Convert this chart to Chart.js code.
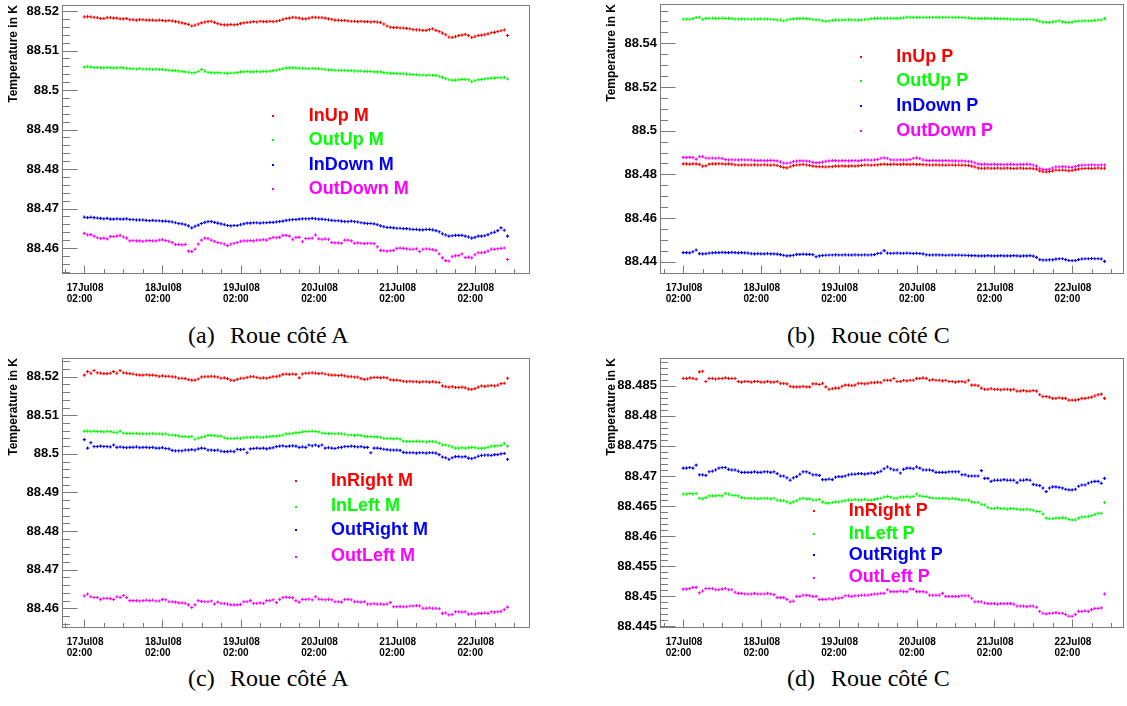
<!DOCTYPE html>
<html>
<head>
<meta charset="utf-8">
<script src="https://cdn.jsdelivr.net/npm/chart.js@4.4.1/dist/chart.umd.min.js"></script>
<style>
  html, body { margin: 0; padding: 0; background: #ffffff; }
  body { width: 1127px; height: 706px; position: relative; overflow: hidden; }
  canvas { position: absolute; }
  .cap { position: absolute; font: 24px/24px "Liberation Serif", "Times New Roman", serif; color: #000; white-space: nowrap; }
</style>
</head>
<body>
<canvas id="cA" width="563" height="310" style="left:0px;top:0px"></canvas>
<canvas id="cB" width="529" height="310" style="left:598px;top:0px"></canvas>
<canvas id="cC" width="563" height="310" style="left:0px;top:353px"></canvas>
<canvas id="cD" width="529" height="310" style="left:598px;top:353px"></canvas>

<div class="cap" style="left:188px;top:323px">(a)</div><div class="cap" style="left:230px;top:323px">Roue côté A</div>
<div class="cap" style="left:787px;top:323px">(b)</div><div class="cap" style="left:831px;top:323px">Roue côté C</div>
<div class="cap" style="left:188px;top:666px">(c)</div><div class="cap" style="left:230px;top:666px">Roue côté A</div>
<div class="cap" style="left:787px;top:666px">(d)</div><div class="cap" style="left:831px;top:666px">Roue côté C</div>

<script>
// ---------- time axis (hours after 17Jul08 02:00) ----------
const hours = [0,1,2,3,4,5,6,7,8,9,10,11,12,13,14,15,16,17,18,19,20,21,22,23,24,25,26,27,28,29,30,31,32,33,34,35,36,37,38,39,40,41,42,43,44,45,46,47,48,49,50,51,52,53,54,55,56,57,58,59,60,61,62,63,64,65,66,67,68,69,70,71,72,73,74,75,76,77,78,79,80,81,82,83,84,85,86,87,88,89,90,91,92,93,94,95,96,97,98,99,100,101,102,103,104,105,106,107,108,109,110,111,112,113,114,115,116,117,118,119,120,121,122,123,124,125,126,127,128,129,130];
const xMajorHours = [0, 24, 48, 72, 96, 120];
const xTickLabels = [["17Jul08","02:00"],["18Jul08","02:00"],["19Jul08","02:00"],["20Jul08","02:00"],["21Jul08","02:00"],["22Jul08","02:00"]];

// ---------- y tick labels ----------
const yTicksA = [88.46, 88.47, 88.48, 88.49, 88.5, 88.51, 88.52];
const yTicksB = [88.44, 88.46, 88.48, 88.5, 88.52, 88.54];
const yTicksC = [88.46, 88.47, 88.48, 88.49, 88.5, 88.51, 88.52];
const yTicksD = [88.445, 88.45, 88.455, 88.46, 88.465, 88.47, 88.475, 88.48, 88.485];

// ---------- (a) Roue côté A : M ----------
const aInUpM = [88.5185,88.5186,88.5185,88.5184,88.5183,88.5181,88.5181,88.5183,88.5183,88.5182,
88.5182,88.5180,88.5180,88.5181,88.5178,88.5178,88.5177,88.5178,88.5178,88.5177,
88.5177,88.5177,88.5176,88.5177,88.5176,88.5175,88.5176,88.5175,88.5173,88.5172,
88.5170,88.5168,88.5166,88.5162,88.5164,88.5167,88.5170,88.5172,88.5173,88.5174,
88.5171,88.5168,88.5166,88.5165,88.5165,88.5166,88.5165,88.5166,88.5168,88.5170,
88.5171,88.5172,88.5173,88.5172,88.5174,88.5173,88.5173,88.5174,88.5173,88.5174,
88.5176,88.5179,88.5181,88.5182,88.5184,88.5183,88.5182,88.5180,88.5180,88.5182,
88.5184,88.5184,88.5183,88.5183,88.5182,88.5180,88.5179,88.5177,88.5177,88.5176,
88.5176,88.5175,88.5174,88.5174,88.5173,88.5174,88.5173,88.5173,88.5172,88.5173,
88.5172,88.5171,88.5167,88.5162,88.5159,88.5158,88.5158,88.5157,88.5157,88.5156,
88.5155,88.5153,88.5152,88.5152,88.5151,88.5151,88.5153,88.5155,88.5151,88.5148,
88.5144,88.5140,88.5134,88.5133,88.5135,88.5138,88.5139,88.5141,88.5138,88.5133,
88.5135,88.5138,88.5139,88.5140,88.5142,88.5145,88.5146,88.5148,88.5150,88.5152,
88.5138];
const aOutUpM = [88.5058,88.5059,88.5058,88.5057,88.5057,88.5056,88.5056,88.5057,88.5056,88.5056,
88.5056,88.5057,88.5056,88.5055,88.5054,88.5054,88.5053,88.5054,88.5053,88.5053,
88.5053,88.5052,88.5053,88.5052,88.5052,88.5051,88.5050,88.5049,88.5049,88.5048,
88.5047,88.5046,88.5045,88.5043,88.5044,88.5047,88.5052,88.5048,88.5045,88.5044,
88.5043,88.5044,88.5043,88.5043,88.5042,88.5043,88.5043,88.5044,88.5046,88.5046,
88.5047,88.5046,88.5046,88.5047,88.5046,88.5047,88.5047,88.5048,88.5049,88.5050,
88.5052,88.5054,88.5056,88.5056,88.5056,88.5056,88.5055,88.5055,88.5055,88.5054,
88.5055,88.5054,88.5054,88.5053,88.5052,88.5051,88.5051,88.5050,88.5050,88.5050,
88.5050,88.5049,88.5049,88.5048,88.5048,88.5048,88.5047,88.5047,88.5047,88.5046,
88.5046,88.5046,88.5044,88.5043,88.5042,88.5042,88.5042,88.5041,88.5041,88.5040,
88.5040,88.5039,88.5039,88.5038,88.5038,88.5037,88.5038,88.5037,88.5037,88.5035,
88.5032,88.5029,88.5026,88.5025,88.5025,88.5026,88.5027,88.5027,88.5026,88.5021,
88.5024,88.5026,88.5027,88.5028,88.5029,88.5030,88.5030,88.5031,88.5031,88.5032,
88.5028];
const aInDownM = [88.4678,88.4677,88.4678,88.4677,88.4676,88.4675,88.4674,88.4675,88.4673,88.4673,
88.4674,88.4673,88.4673,88.4674,88.4672,88.4672,88.4671,88.4671,88.4671,88.4670,
88.4669,88.4670,88.4669,88.4669,88.4668,88.4668,88.4667,88.4666,88.4664,88.4662,
88.4661,88.4659,88.4656,88.4651,88.4655,88.4658,88.4662,88.4665,88.4667,88.4667,
88.4665,88.4663,88.4661,88.4659,88.4657,88.4656,88.4657,88.4657,88.4659,88.4661,
88.4663,88.4663,88.4664,88.4664,88.4663,88.4664,88.4664,88.4665,88.4665,88.4666,
88.4667,88.4668,88.4670,88.4671,88.4672,88.4672,88.4673,88.4674,88.4674,88.4674,
88.4675,88.4674,88.4673,88.4673,88.4672,88.4671,88.4670,88.4669,88.4669,88.4668,
88.4667,88.4667,88.4668,88.4667,88.4666,88.4664,88.4663,88.4662,88.4662,88.4661,
88.4659,88.4656,88.4654,88.4652,88.4652,88.4651,88.4650,88.4650,88.4649,88.4649,
88.4648,88.4647,88.4647,88.4646,88.4646,88.4647,88.4647,88.4646,88.4644,88.4641,
88.4636,88.4633,88.4630,88.4631,88.4632,88.4632,88.4632,88.4630,88.4628,88.4625,
88.4627,88.4630,88.4630,88.4631,88.4634,88.4638,88.4640,88.4644,88.4651,88.4645,
88.4630];
const aOutDownM = [88.4637,88.4633,88.4634,88.4630,88.4626,88.4624,88.4625,88.4623,88.4629,88.4629,
88.4630,88.4632,88.4628,88.4625,88.4618,88.4619,88.4618,88.4618,88.4617,88.4618,
88.4619,88.4618,88.4618,88.4620,88.4621,88.4619,88.4617,88.4614,88.4609,88.4609,
88.4608,88.4609,88.4592,88.4591,88.4597,88.4610,88.4620,88.4625,88.4624,88.4620,
88.4617,88.4614,88.4612,88.4610,88.4606,88.4610,88.4612,88.4614,88.4617,88.4618,
88.4618,88.4619,88.4618,88.4620,88.4620,88.4621,88.4620,88.4624,88.4627,88.4626,
88.4627,88.4632,88.4632,88.4630,88.4622,88.4627,88.4627,88.4616,88.4624,88.4624,
88.4625,88.4633,88.4623,88.4622,88.4623,88.4622,88.4614,88.4613,88.4613,88.4612,
88.4620,88.4620,88.4618,88.4612,88.4613,88.4612,88.4611,88.4612,88.4612,88.4611,
88.4603,88.4594,88.4593,88.4592,88.4593,88.4594,88.4599,88.4600,88.4599,88.4598,
88.4597,88.4597,88.4598,88.4591,88.4597,88.4598,88.4597,88.4596,88.4594,88.4585,
88.4575,88.4568,88.4567,88.4578,88.4580,88.4581,88.4585,88.4576,88.4577,88.4575,
88.4583,88.4588,88.4588,88.4589,88.4592,88.4597,88.4597,88.4598,88.4599,88.4600,
88.4571];

// ---------- (b) Roue côté C : P ----------
const bInUpP = [88.4848,88.4848,88.4847,88.4848,88.4848,88.4846,88.4838,88.4839,88.4847,88.4848,
88.4848,88.4849,88.4848,88.4847,88.4848,88.4847,88.4844,88.4843,88.4843,88.4844,
88.4843,88.4843,88.4844,88.4843,88.4843,88.4844,88.4843,88.4842,88.4843,88.4841,
88.4836,88.4832,88.4830,88.4835,88.4840,88.4843,88.4844,88.4845,88.4843,88.4841,
88.4838,88.4836,88.4835,88.4835,88.4834,88.4835,88.4836,88.4838,88.4838,88.4839,
88.4838,88.4838,88.4839,88.4838,88.4839,88.4841,88.4843,88.4843,88.4842,88.4843,
88.4844,88.4846,88.4847,88.4846,88.4846,88.4847,88.4846,88.4846,88.4847,88.4846,
88.4846,88.4847,88.4846,88.4846,88.4845,88.4844,88.4843,88.4843,88.4844,88.4843,
88.4843,88.4842,88.4843,88.4843,88.4842,88.4843,88.4842,88.4842,88.4841,88.4838,
88.4834,88.4829,88.4828,88.4828,88.4829,88.4828,88.4828,88.4829,88.4828,88.4828,
88.4829,88.4828,88.4827,88.4828,88.4829,88.4828,88.4827,88.4828,88.4826,88.4824,
88.4816,88.4812,88.4811,88.4813,88.4816,88.4820,88.4819,88.4820,88.4819,88.4816,
88.4818,88.4822,88.4824,88.4826,88.4827,88.4828,88.4827,88.4828,88.4829,88.4828,
88.4828];
const bOutUpP = [88.5510,88.5511,88.5510,88.5513,88.5518,88.5519,88.5510,88.5514,88.5514,88.5515,
88.5514,88.5514,88.5515,88.5514,88.5514,88.5513,88.5511,88.5511,88.5512,88.5511,
88.5511,88.5510,88.5511,88.5511,88.5512,88.5511,88.5511,88.5510,88.5509,88.5507,
88.5507,88.5502,88.5507,88.5510,88.5512,88.5513,88.5513,88.5514,88.5513,88.5512,
88.5508,88.5507,88.5507,88.5503,88.5501,88.5502,88.5505,88.5507,88.5506,88.5507,
88.5507,88.5508,88.5507,88.5507,88.5506,88.5507,88.5508,88.5510,88.5513,88.5514,
88.5514,88.5515,88.5514,88.5515,88.5515,88.5514,88.5514,88.5515,88.5516,88.5520,
88.5519,88.5518,88.5519,88.5519,88.5518,88.5519,88.5519,88.5518,88.5519,88.5519,
88.5518,88.5519,88.5519,88.5518,88.5518,88.5519,88.5518,88.5517,88.5516,88.5514,
88.5514,88.5514,88.5513,88.5514,88.5514,88.5513,88.5514,88.5513,88.5513,88.5512,
88.5512,88.5511,88.5510,88.5510,88.5509,88.5510,88.5509,88.5510,88.5508,88.5506,
88.5500,88.5497,88.5497,88.5496,88.5498,88.5500,88.5503,88.5498,88.5496,88.5496,
88.5497,88.5500,88.5502,88.5502,88.5503,88.5502,88.5503,88.5505,88.5507,88.5507,
88.5513];
const bInDownP = [88.4442,88.4442,88.4441,88.4446,88.4454,88.4437,88.4436,88.4437,88.4440,88.4441,
88.4442,88.4442,88.4443,88.4442,88.4442,88.4443,88.4442,88.4441,88.4442,88.4441,
88.4440,88.4437,88.4436,88.4437,88.4436,88.4436,88.4437,88.4436,88.4436,88.4435,
88.4433,88.4430,88.4427,88.4428,88.4430,88.4434,88.4434,88.4435,88.4434,88.4434,
88.4433,88.4423,88.4427,88.4429,88.4430,88.4431,88.4431,88.4432,88.4431,88.4431,
88.4432,88.4431,88.4431,88.4432,88.4431,88.4431,88.4432,88.4431,88.4432,88.4433,
88.4438,88.4440,88.4451,88.4440,88.4439,88.4439,88.4440,88.4439,88.4439,88.4440,
88.4439,88.4438,88.4439,88.4438,88.4436,88.4432,88.4431,88.4431,88.4432,88.4431,
88.4431,88.4430,88.4431,88.4431,88.4430,88.4431,88.4430,88.4430,88.4429,88.4428,
88.4428,88.4427,88.4427,88.4427,88.4428,88.4427,88.4427,88.4427,88.4428,88.4427,
88.4427,88.4427,88.4428,88.4427,88.4426,88.4427,88.4427,88.4428,88.4426,88.4420,
88.4410,88.4408,88.4408,88.4409,88.4409,88.4412,88.4414,88.4414,88.4410,88.4406,
88.4405,88.4406,88.4410,88.4413,88.4414,88.4414,88.4415,88.4414,88.4414,88.4413,
88.4402];
const bOutDownP = [88.4878,88.4877,88.4878,88.4877,88.4870,88.4881,88.4881,88.4875,88.4874,88.4875,
88.4874,88.4875,88.4873,88.4868,88.4866,88.4867,88.4866,88.4866,88.4867,88.4866,
88.4866,88.4866,88.4864,88.4863,88.4864,88.4863,88.4863,88.4864,88.4863,88.4862,
88.4857,88.4852,88.4851,88.4853,88.4858,88.4861,88.4862,88.4862,88.4861,88.4860,
88.4855,88.4854,88.4854,88.4856,88.4860,88.4862,88.4863,88.4863,88.4862,88.4863,
88.4863,88.4862,88.4863,88.4863,88.4862,88.4864,88.4866,88.4866,88.4865,88.4866,
88.4868,88.4874,88.4876,88.4874,88.4867,88.4866,88.4866,88.4867,88.4866,88.4866,
88.4868,88.4874,88.4876,88.4873,88.4866,88.4864,88.4863,88.4864,88.4863,88.4863,
88.4862,88.4863,88.4863,88.4862,88.4862,88.4861,88.4862,88.4861,88.4860,88.4858,
88.4853,88.4848,88.4846,88.4847,88.4846,88.4846,88.4847,88.4846,88.4846,88.4845,
88.4846,88.4847,88.4846,88.4845,88.4846,88.4846,88.4847,88.4846,88.4843,88.4838,
88.4828,88.4823,88.4822,88.4824,88.4829,88.4835,88.4834,88.4836,88.4835,88.4833,
88.4832,88.4836,88.4840,88.4842,88.4843,88.4843,88.4844,88.4843,88.4843,88.4844,
88.4843];

// ---------- (c) Roue côté A : M ----------
const cInRightM = [88.5204,88.5213,88.5209,88.5216,88.5210,88.5209,88.5208,88.5208,88.5209,88.5213,
88.5209,88.5216,88.5210,88.5209,88.5208,88.5207,88.5205,88.5204,88.5204,88.5205,
88.5204,88.5204,88.5203,88.5201,88.5202,88.5201,88.5201,88.5200,88.5199,88.5196,
88.5196,88.5195,88.5192,88.5191,88.5191,88.5194,88.5199,88.5200,88.5200,88.5201,
88.5200,88.5199,88.5196,88.5197,88.5195,88.5191,88.5190,88.5193,88.5196,88.5196,
88.5198,88.5200,88.5200,88.5198,88.5196,88.5197,88.5196,88.5198,88.5200,88.5200,
88.5202,88.5206,88.5207,88.5206,88.5207,88.5206,88.5197,88.5207,88.5209,88.5209,
88.5210,88.5209,88.5208,88.5209,88.5207,88.5205,88.5204,88.5204,88.5203,88.5204,
88.5202,88.5200,88.5200,88.5199,88.5199,88.5195,88.5193,88.5194,88.5197,88.5198,
88.5198,88.5197,88.5198,88.5197,88.5192,88.5191,88.5191,88.5190,88.5188,88.5187,
88.5188,88.5187,88.5187,88.5186,88.5187,88.5187,88.5186,88.5187,88.5186,88.5185,
88.5176,88.5174,88.5173,88.5174,88.5172,88.5172,88.5173,88.5171,88.5168,88.5167,
88.5169,88.5173,88.5176,88.5175,88.5176,88.5177,88.5176,88.5178,88.5182,88.5183,
88.5196];
const cInLeftM = [88.5059,88.5059,88.5058,88.5059,88.5058,88.5058,88.5057,88.5058,88.5058,88.5056,
88.5055,88.5059,88.5054,88.5053,88.5053,88.5053,88.5053,88.5052,88.5052,88.5052,
88.5052,88.5053,88.5052,88.5052,88.5051,88.5052,88.5049,88.5049,88.5048,88.5046,
88.5045,88.5045,88.5044,88.5045,88.5038,88.5041,88.5043,88.5045,88.5048,88.5048,
88.5047,88.5046,88.5046,88.5042,88.5040,88.5040,88.5040,88.5041,88.5040,88.5042,
88.5043,88.5043,88.5043,88.5044,88.5043,88.5043,88.5044,88.5045,88.5046,88.5046,
88.5047,88.5049,88.5052,88.5052,88.5053,88.5055,88.5055,88.5057,88.5058,88.5058,
88.5059,88.5058,88.5057,88.5054,88.5053,88.5053,88.5053,88.5052,88.5053,88.5052,
88.5051,88.5049,88.5049,88.5048,88.5049,88.5048,88.5046,88.5045,88.5045,88.5044,
88.5044,88.5043,88.5040,88.5040,88.5040,88.5039,88.5040,88.5038,88.5033,88.5032,
88.5032,88.5032,88.5033,88.5032,88.5032,88.5031,88.5032,88.5032,88.5031,88.5028,
88.5023,88.5023,88.5021,88.5018,88.5015,88.5015,88.5016,88.5015,88.5016,88.5017,
88.5016,88.5015,88.5015,88.5015,88.5017,88.5020,88.5020,88.5021,88.5022,88.5027,
88.5020];
const cOutRightM = [88.5037,88.5015,88.5029,88.5019,88.5019,88.5020,88.5019,88.5019,88.5018,88.5023,
88.5017,88.5018,88.5017,88.5016,88.5017,88.5017,88.5018,88.5016,88.5017,88.5017,
88.5016,88.5017,88.5015,88.5015,88.5016,88.5014,88.5013,88.5009,88.5008,88.5008,
88.5008,88.5010,88.5010,88.5011,88.5010,88.5013,88.5015,88.5014,88.5010,88.5010,
88.5009,88.5010,88.5007,88.5006,88.5006,88.5007,88.5006,88.5012,88.5011,88.5012,
88.5003,88.5013,88.5014,88.5015,88.5014,88.5015,88.5013,88.5015,88.5016,88.5019,
88.5020,88.5021,88.5019,88.5020,88.5021,88.5020,88.5017,88.5018,88.5017,88.5023,
88.5021,88.5023,88.5020,88.5023,88.5015,88.5016,88.5015,88.5014,88.5016,88.5017,
88.5019,88.5019,88.5020,88.5019,88.5018,88.5019,88.5017,88.5017,88.5003,88.5015,
88.5015,88.5014,88.5012,88.5011,88.5010,88.5010,88.5010,88.5009,88.5004,88.5003,
88.5003,88.5003,88.5002,88.5003,88.5003,88.5002,88.5003,88.5003,88.5002,88.4998,
88.4992,88.4990,88.4986,88.4990,88.4993,88.4993,88.4992,88.4993,88.4989,88.4988,
88.4990,88.4994,88.4996,88.4997,88.4997,88.4996,88.4998,88.4998,88.5000,88.5001,
88.4986];
const cOutLeftM = [88.4632,88.4637,88.4630,88.4628,88.4628,88.4623,88.4626,88.4626,88.4625,88.4623,
88.4630,88.4628,88.4633,88.4628,88.4620,88.4620,88.4620,88.4619,88.4620,88.4621,
88.4620,88.4621,88.4619,88.4619,88.4623,88.4622,88.4617,88.4617,88.4616,88.4614,
88.4614,88.4613,88.4609,88.4602,88.4609,88.4620,88.4618,88.4617,88.4617,88.4619,
88.4611,88.4616,88.4613,88.4612,88.4611,88.4609,88.4609,88.4609,88.4610,88.4617,
88.4617,88.4620,88.4613,88.4613,88.4614,88.4613,88.4620,88.4620,88.4622,88.4615,
88.4623,88.4628,88.4629,88.4628,88.4627,88.4620,88.4616,88.4623,88.4623,88.4624,
88.4622,88.4630,88.4624,88.4623,88.4622,88.4623,88.4622,88.4617,88.4617,88.4616,
88.4623,88.4623,88.4622,88.4617,88.4617,88.4616,88.4617,88.4611,88.4611,88.4612,
88.4611,88.4611,88.4610,88.4611,88.4615,88.4604,88.4604,88.4605,88.4604,88.4604,
88.4606,88.4606,88.4607,88.4606,88.4600,88.4600,88.4601,88.4600,88.4600,88.4599,
88.4587,88.4588,88.4583,88.4584,88.4591,88.4591,88.4590,88.4591,88.4585,88.4586,
88.4585,88.4587,88.4587,88.4588,88.4587,88.4591,88.4590,88.4591,88.4592,88.4597,
88.4603];

// ---------- (d) Roue côté C : P ----------
const dInRightP = [88.4862,88.4862,88.4863,88.4862,88.4861,88.4873,88.4874,88.4857,88.4862,88.4862,
88.4861,88.4862,88.4862,88.4863,88.4862,88.4862,88.4862,88.4857,88.4856,88.4857,
88.4857,88.4856,88.4857,88.4857,88.4856,88.4856,88.4857,88.4856,88.4856,88.4857,
88.4854,88.4854,88.4853,88.4849,88.4848,88.4848,88.4848,88.4849,88.4848,88.4848,
88.4853,88.4853,88.4852,88.4854,88.4848,88.4844,88.4845,88.4846,88.4846,88.4849,
88.4851,88.4851,88.4850,88.4851,88.4854,88.4854,88.4853,88.4854,88.4855,88.4855,
88.4856,88.4855,88.4859,88.4859,88.4859,88.4862,88.4857,88.4857,88.4859,88.4858,
88.4859,88.4859,88.4862,88.4862,88.4863,88.4862,88.4859,88.4860,88.4859,88.4859,
88.4858,88.4859,88.4857,88.4857,88.4856,88.4857,88.4857,88.4856,88.4859,88.4851,
88.4851,88.4850,88.4846,88.4844,88.4844,88.4845,88.4844,88.4844,88.4843,88.4844,
88.4844,88.4843,88.4844,88.4841,88.4841,88.4842,88.4841,88.4841,88.4842,88.4841,
88.4835,88.4832,88.4832,88.4831,88.4829,88.4829,88.4830,88.4829,88.4829,88.4826,
88.4826,88.4826,88.4827,88.4829,88.4829,88.4830,88.4831,88.4833,88.4835,88.4836,
88.4829];
const dInLeftP = [88.4670,88.4670,88.4671,88.4670,88.4671,88.4663,88.4662,88.4664,88.4667,88.4667,
88.4667,88.4668,88.4667,88.4671,88.4670,88.4668,88.4668,88.4667,88.4664,88.4663,
88.4663,88.4663,88.4663,88.4662,88.4663,88.4663,88.4663,88.4662,88.4663,88.4660,
88.4659,88.4659,88.4657,88.4655,88.4657,88.4659,88.4662,88.4663,88.4662,88.4662,
88.4660,88.4660,88.4661,88.4657,88.4655,88.4655,88.4656,88.4657,88.4657,88.4658,
88.4659,88.4660,88.4660,88.4661,88.4660,88.4660,88.4661,88.4660,88.4660,88.4661,
88.4662,88.4663,88.4665,88.4666,88.4665,88.4663,88.4663,88.4665,88.4665,88.4666,
88.4665,88.4666,88.4670,88.4667,88.4666,88.4666,88.4664,88.4663,88.4663,88.4663,
88.4663,88.4663,88.4662,88.4663,88.4662,88.4661,88.4660,88.4660,88.4660,88.4657,
88.4656,88.4656,88.4653,88.4652,88.4648,88.4646,88.4646,88.4647,88.4646,88.4646,
88.4645,88.4646,88.4646,88.4645,88.4644,88.4644,88.4645,88.4644,88.4643,88.4641,
88.4641,88.4637,88.4630,88.4629,88.4629,88.4630,88.4630,88.4631,88.4630,88.4628,
88.4627,88.4627,88.4630,88.4632,88.4632,88.4633,88.4634,88.4636,88.4638,88.4638,
88.4656];
const dOutRightP = [88.4713,88.4713,88.4714,88.4713,88.4718,88.4702,88.4702,88.4701,88.4707,88.4708,
88.4710,88.4713,88.4714,88.4714,88.4711,88.4710,88.4710,88.4708,88.4706,88.4706,
88.4706,88.4706,88.4707,88.4706,88.4706,88.4707,88.4707,88.4706,88.4707,88.4704,
88.4700,88.4700,88.4697,88.4693,88.4697,88.4699,88.4703,88.4707,88.4707,88.4705,
88.4702,88.4702,88.4701,88.4694,88.4694,88.4695,88.4694,88.4698,88.4699,88.4699,
88.4700,88.4702,88.4703,88.4703,88.4704,88.4704,88.4703,88.4704,88.4705,88.4704,
88.4706,88.4708,88.4712,88.4715,88.4712,88.4710,88.4710,88.4705,88.4711,88.4713,
88.4713,88.4712,88.4715,88.4713,88.4710,88.4710,88.4710,88.4709,88.4706,88.4706,
88.4706,88.4706,88.4707,88.4707,88.4707,88.4707,88.4702,88.4702,88.4700,88.4700,
88.4700,88.4700,88.4709,88.4696,88.4696,88.4691,88.4693,88.4693,88.4693,88.4694,
88.4693,88.4693,88.4693,88.4689,88.4693,88.4693,88.4694,88.4693,88.4686,88.4685,
88.4684,88.4680,88.4674,88.4680,88.4682,88.4682,88.4681,88.4680,88.4678,88.4677,
88.4677,88.4678,88.4683,88.4685,88.4685,88.4688,88.4690,88.4691,88.4691,88.4688,
88.4696];
const dOutLeftP = [88.4512,88.4512,88.4513,88.4515,88.4515,88.4506,88.4509,88.4513,88.4513,88.4513,
88.4511,88.4511,88.4512,88.4513,88.4511,88.4511,88.4507,88.4505,88.4505,88.4504,
88.4504,88.4504,88.4505,88.4504,88.4504,88.4504,88.4505,88.4504,88.4503,88.4498,
88.4498,88.4498,88.4495,88.4491,88.4492,88.4500,88.4500,88.4502,88.4502,88.4501,
88.4500,88.4500,88.4495,88.4495,88.4495,88.4496,88.4495,88.4497,88.4497,88.4498,
88.4501,88.4501,88.4500,88.4501,88.4501,88.4502,88.4502,88.4502,88.4503,88.4504,
88.4504,88.4505,88.4505,88.4511,88.4508,88.4508,88.4508,88.4509,88.4508,88.4508,
88.4512,88.4512,88.4508,88.4508,88.4508,88.4507,88.4502,88.4502,88.4502,88.4502,
88.4505,88.4500,88.4500,88.4500,88.4500,88.4500,88.4501,88.4501,88.4501,88.4497,
88.4491,88.4491,88.4491,88.4489,88.4488,88.4488,88.4488,88.4487,88.4488,88.4488,
88.4488,88.4488,88.4487,88.4484,88.4484,88.4484,88.4483,88.4484,88.4484,88.4482,
88.4475,88.4472,88.4471,88.4472,88.4472,88.4473,88.4472,88.4472,88.4470,88.4467,
88.4467,88.4470,88.4475,88.4475,88.4476,88.4475,88.4478,88.4480,88.4480,88.4481,
88.4504];

// ---------- rendering ----------
const FONT = '"Liberation Sans", Arial, Helvetica, sans-serif';
const RED = '#ff0000', GREEN = '#00ff00', BLUE = '#0000ff', MAGENTA = '#ff00ff';

const rootFrame = {
  id: 'rootFrame',
  beforeDatasetsDraw(chart, args, o) {
    const {ctx, chartArea: a} = chart;
    const xs = chart.scales.x, ys = chart.scales.y;
    ctx.save();
    ctx.strokeStyle = '#7a7a7a';
    ctx.lineWidth = 1;
    const L = Math.round(a.left) + 0.5, R = Math.round(a.right) - 0.5;
    const T = Math.round(a.top) + 0.5, B = Math.round(a.bottom) - 0.5;
    ctx.strokeRect(L, T, R - L, B - T);
    ctx.beginPath();
    const n0 = Math.ceil(ys.min / o.yMinor - 1e-6), n1 = Math.floor(ys.max / o.yMinor + 1e-6);
    for (let n = n0; n <= n1; n++) {
      const v = n * o.yMinor;
      const r = v / o.yMajor;
      const major = Math.abs(r - Math.round(r)) < 1e-6;
      const py = Math.round(ys.getPixelForValue(v)) + 0.5;
      ctx.moveTo(L, py);
      ctx.lineTo(L + (major ? 15 : 7.5), py);
    }
    for (let h = -6; h <= xs.max; h += 6) {
      if (h < xs.min) continue;
      const major = h % 24 === 0;
      const px = Math.round(xs.getPixelForValue(h)) + 0.5;
      ctx.moveTo(px, B);
      ctx.lineTo(px, B - (major ? 8 : 4.5));
    }
    ctx.stroke();
    ctx.restore();
  }
};

const rootLegend = {
  id: 'rootLegend',
  afterDatasetsDraw(chart, args, o) {
    const {ctx, chartArea: a} = chart;
    ctx.save();
    ctx.font = 'bold 18px ' + FONT;
    ctx.textBaseline = 'middle';
    ctx.textAlign = 'left';
    chart.data.datasets.forEach((ds, i) => {
      const y = a.top + o.ys[i] * a.height;
      const mx = a.left + o.markX * a.width;
      const tx = a.left + o.textX * a.width;
      ctx.fillStyle = ds.borderColor;
      ctx.fillRect(Math.round(mx) - 1, Math.round(y) - 1, 2, 2);
      ctx.fillText(ds.label, tx, y);
    });
    ctx.restore();
  }
};

function makeChart(id, cfg) {
  const canvas = document.getElementById(id);
  const H = canvas.height;
  const zeroPad = s => { s.paddingLeft = 0; s.paddingRight = 0; s.paddingTop = 0; s.paddingBottom = 0; };
  return new Chart(canvas, {
    type: 'scatter',
    data: {
      datasets: cfg.series.map(s => ({
        label: s.label,
        data: hours.map((h, i) => ({x: h, y: s.values[i]})),
        borderColor: s.color,
        backgroundColor: s.color,
        pointStyle: 'cross',
        pointRadius: 1.6,
        pointBorderWidth: 1.1,
        pointHoverRadius: 1.6
      }))
    },
    plugins: [rootFrame, rootLegend],
    options: {
      responsive: false,
      animation: false,
      events: [],
      layout: { padding: { left: 0, top: cfg.top, right: cfg.right, bottom: 0 } },
      plugins: {
        legend: { display: false },
        tooltip: { enabled: false },
        rootFrame: { yMinor: cfg.yMinor, yMajor: cfg.yMajor },
        rootLegend: cfg.legend
      },
      scales: {
        x: {
          type: 'linear', position: 'bottom', min: cfg.xMin, max: cfg.xMax,
          afterBuildTicks: s => { s.ticks = xMajorHours.map(v => ({value: v})); },
          afterFit: s => { s.height = H - cfg.bottom; zeroPad(s); },
          grid: { display: false, drawTicks: false },
          border: { display: false },
          ticks: {
            autoSkip: false, maxRotation: 0, minRotation: 0,
            align: 'start', labelOffset: -17.5, padding: 9, color: '#000',
            font: { family: FONT, size: 10, weight: 'bold', lineHeight: 1.05 },
            callback: v => xTickLabels[xMajorHours.indexOf(v)]
          }
        },
        y: {
          type: 'linear', position: 'left', min: cfg.yMin, max: cfg.yMax,
          afterBuildTicks: s => { s.ticks = cfg.yTicks.map(v => ({value: v})); },
          afterFit: s => { s.width = 62; zeroPad(s); },
          grid: { display: false, drawTicks: false },
          border: { display: false },
          ticks: {
            padding: 3, color: '#000',
            font: { family: FONT, size: 13, weight: 'bold' },
            callback: v => String(parseFloat(Number(v).toFixed(4)))
          },
          title: {
            display: true, text: 'Temperature in K', align: 'end', color: '#000',
            font: { family: FONT, size: 12, weight: 'bold' },
            padding: { top: 6, bottom: 0 }
          }
        }
      }
    }
  });
}

makeChart('cA', {
  top: 5, right: 33, bottom: 274,
  xMin: -6.85, xMax: 136.9, yMin: 88.45342, yMax: 88.52152,
  yTicks: yTicksA, yMajor: 0.01, yMinor: 0.002,
  series: [
    {label: 'InUp M', color: RED, values: aInUpM},
    {label: 'OutUp M', color: GREEN, values: aOutUpM},
    {label: 'InDown M', color: BLUE, values: aInDownM},
    {label: 'OutDown M', color: MAGENTA, values: aOutDownM}
  ],
  legend: { markX: 0.451, textX: 0.5274, ys: [0.4126, 0.5019, 0.5948, 0.6840] }
});

makeChart('cB', {
  top: 4, right: 1, bottom: 274,
  xMin: -7.16, xMax: 136.1, yMin: 88.43441, yMax: 88.55799,
  yTicks: yTicksB, yMajor: 0.02, yMinor: 0.005,
  series: [
    {label: 'InUp P', color: RED, values: bInUpP},
    {label: 'OutUp P', color: GREEN, values: bOutUpP},
    {label: 'InDown P', color: BLUE, values: bInDownP},
    {label: 'OutDown P', color: MAGENTA, values: bOutDownP}
  ],
  legend: { markX: 0.4335, textX: 0.5086, ys: [0.1952, 0.2852, 0.3778, 0.4693] }
});

makeChart('cC', {
  top: 5, right: 33, bottom: 275,
  xMin: -6.85, xMax: 136.9, yMin: 88.45490, yMax: 88.52484,
  yTicks: yTicksC, yMajor: 0.01, yMinor: 0.002,
  series: [
    {label: 'InRight M', color: RED, values: cInRightM},
    {label: 'InLeft M', color: GREEN, values: cInLeftM},
    {label: 'OutRight M', color: BLUE, values: cOutRightM},
    {label: 'OutLeft M', color: MAGENTA, values: cOutLeftM}
  ],
  legend: { markX: 0.4994, textX: 0.575, ys: [0.4563, 0.5500, 0.6383, 0.7352] }
});

makeChart('cD', {
  top: 5, right: 1, bottom: 275,
  xMin: -7.16, xMax: 136.1, yMin: 88.44475, yMax: 88.48960,
  yTicks: yTicksD, yMajor: 0.005, yMinor: 0.001,
  series: [
    {label: 'InRight P', color: RED, values: dInRightP},
    {label: 'InLeft P', color: GREEN, values: dInLeftP},
    {label: 'OutRight P', color: BLUE, values: dOutRightP},
    {label: 'OutLeft P', color: MAGENTA, values: dOutLeftP}
  ],
  legend: { markX: 0.3311, textX: 0.4067, ys: [0.5674, 0.6515, 0.7296, 0.8130] }
});
</script>
</body>
</html>
